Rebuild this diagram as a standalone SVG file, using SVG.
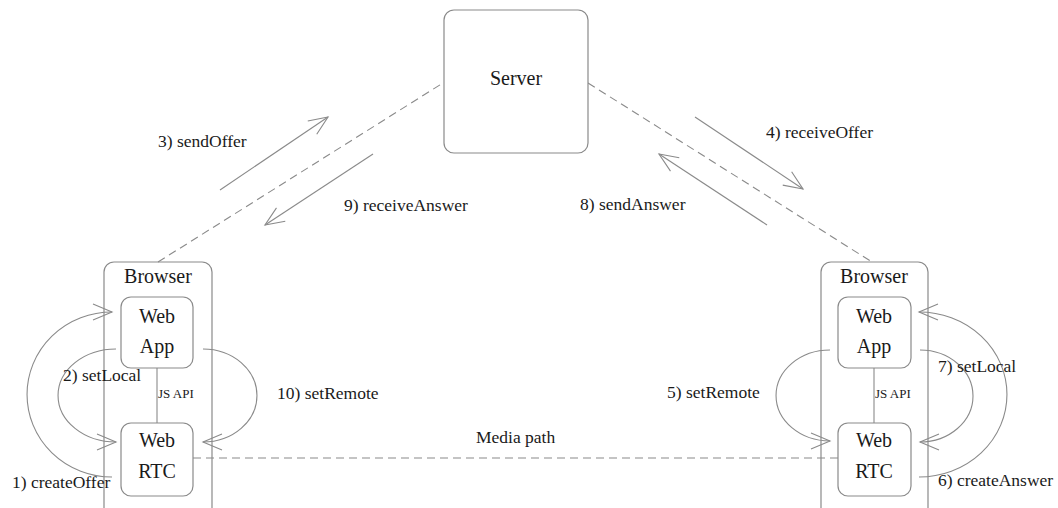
<svg xmlns="http://www.w3.org/2000/svg" width="1058" height="508" viewBox="0 0 1058 508">
  <style>
    .box { fill: #ffffff; stroke: #8a8a8a; stroke-width: 1.2; }
    .frame { fill: none; stroke: #8a8a8a; stroke-width: 1.2; }
    .line { fill: none; stroke: #8a8a8a; stroke-width: 1.1; }
    .dash { fill: none; stroke: #8a8a8a; stroke-width: 1.1; stroke-dasharray: 8 5; }
    .t { font-family: "Liberation Serif", "Times New Roman", serif; fill: #1a1a1a; }
    .node { font-size: 20px; text-anchor: middle; }
    .lbl { font-size: 17.5px; }
    .api { font-size: 13px; }
  </style>
  <defs>
    <marker id="open" viewBox="-21 -10 23 20" refX="0" refY="0" markerWidth="23" markerHeight="20" markerUnits="userSpaceOnUse" orient="auto">
      <path d="M-19,-8 L0,0 L-19,8" fill="none" stroke="#8a8a8a" stroke-width="1.1"/>
    </marker>
  </defs>
  <rect width="1058" height="508" fill="#ffffff"/>

  <!-- signalling and media paths -->
  <g id="connectors">
    <path class="dash" d="M158,262 L443,83"/>
    <path class="dash" d="M588,83 L872,262"/>
    <path class="dash" d="M193,458 L838,458"/>
    <path class="line" d="M157,368 L157,423"/>
    <path class="line" d="M874,368 L874,423"/>

    <path class="line" marker-end="url(#open)" d="M220,190 L328,117"/>
    <path class="line" marker-end="url(#open)" d="M373,154 L265,225"/>
    <path class="line" marker-end="url(#open)" d="M695,117 L803,189"/>
    <path class="line" marker-end="url(#open)" d="M767,225 L659,154"/>

    <!-- local calls between the web app and the WebRTC stack -->
    <path class="line" marker-end="url(#open)" d="M112,477 A85,82.5 0 0 1 112,312"/>
    <path class="line" marker-end="url(#open)" d="M116,349 A58,46.5 0 0 0 116,442"/>
    <path class="line" marker-end="url(#open)" d="M203,349 A54,46.5 0 0 1 203,442"/>
    <path class="line" marker-end="url(#open)" d="M830,350 A54,45.5 0 0 0 830,441"/>
    <path class="line" marker-end="url(#open)" d="M920,350 A53,46 0 0 1 920,442"/>
    <path class="line" marker-end="url(#open)" d="M919,477 A88,82.5 0 0 0 919,312"/>
  </g>

  <g id="server">
    <rect class="box" x="444" y="10" width="144" height="143" rx="10"/>
    <text class="t node" x="516" y="85">Server</text>
  </g>

  <g id="browser-left">
    <rect class="frame" x="104" y="262" width="108" height="262" rx="10"/>
    <text class="t node" x="158" y="283">Browser</text>
  </g>
  <g id="webapp-left">
    <rect class="box" x="121" y="297" width="72" height="71" rx="10"/>
    <text class="t node" x="157" y="323">Web</text>
    <text class="t node" x="157" y="353">App</text>
  </g>
  <g id="webrtc-left">
    <rect class="box" x="121" y="423" width="72" height="73" rx="10"/>
    <text class="t node" x="157" y="447">Web</text>
    <text class="t node" x="157" y="478">RTC</text>
  </g>

  <g id="browser-right">
    <rect class="frame" x="821" y="262" width="107" height="262" rx="10"/>
    <text class="t node" x="874" y="283">Browser</text>
  </g>
  <g id="webapp-right">
    <rect class="box" x="838" y="297" width="73" height="71" rx="10"/>
    <text class="t node" x="874" y="323">Web</text>
    <text class="t node" x="874" y="353">App</text>
  </g>
  <g id="webrtc-right">
    <rect class="box" x="838" y="423" width="73" height="73" rx="10"/>
    <text class="t node" x="874" y="447">Web</text>
    <text class="t node" x="874" y="478">RTC</text>
  </g>

  <!-- step labels -->
  <g id="labels">
    <text class="t api" x="158" y="398">JS API</text>
    <text class="t api" x="875" y="398">JS API</text>
    <text class="t lbl" x="158" y="147">3) sendOffer</text>
    <text class="t lbl" x="344" y="211">9) receiveAnswer</text>
    <text class="t lbl" x="766" y="138">4) receiveOffer</text>
    <text class="t lbl" x="580" y="210">8) sendAnswer</text>
    <text class="t lbl" x="63" y="381">2) setLocal</text>
    <text class="t lbl" x="277" y="399">10) setRemote</text>
    <text class="t lbl" x="667" y="398">5) setRemote</text>
    <text class="t lbl" x="938" y="372">7) setLocal</text>
    <text class="t lbl" x="12" y="488">1) createOffer</text>
    <text class="t lbl" x="938" y="486">6) createAnswer</text>
    <text class="t lbl" x="476" y="443">Media path</text>
  </g>
</svg>
